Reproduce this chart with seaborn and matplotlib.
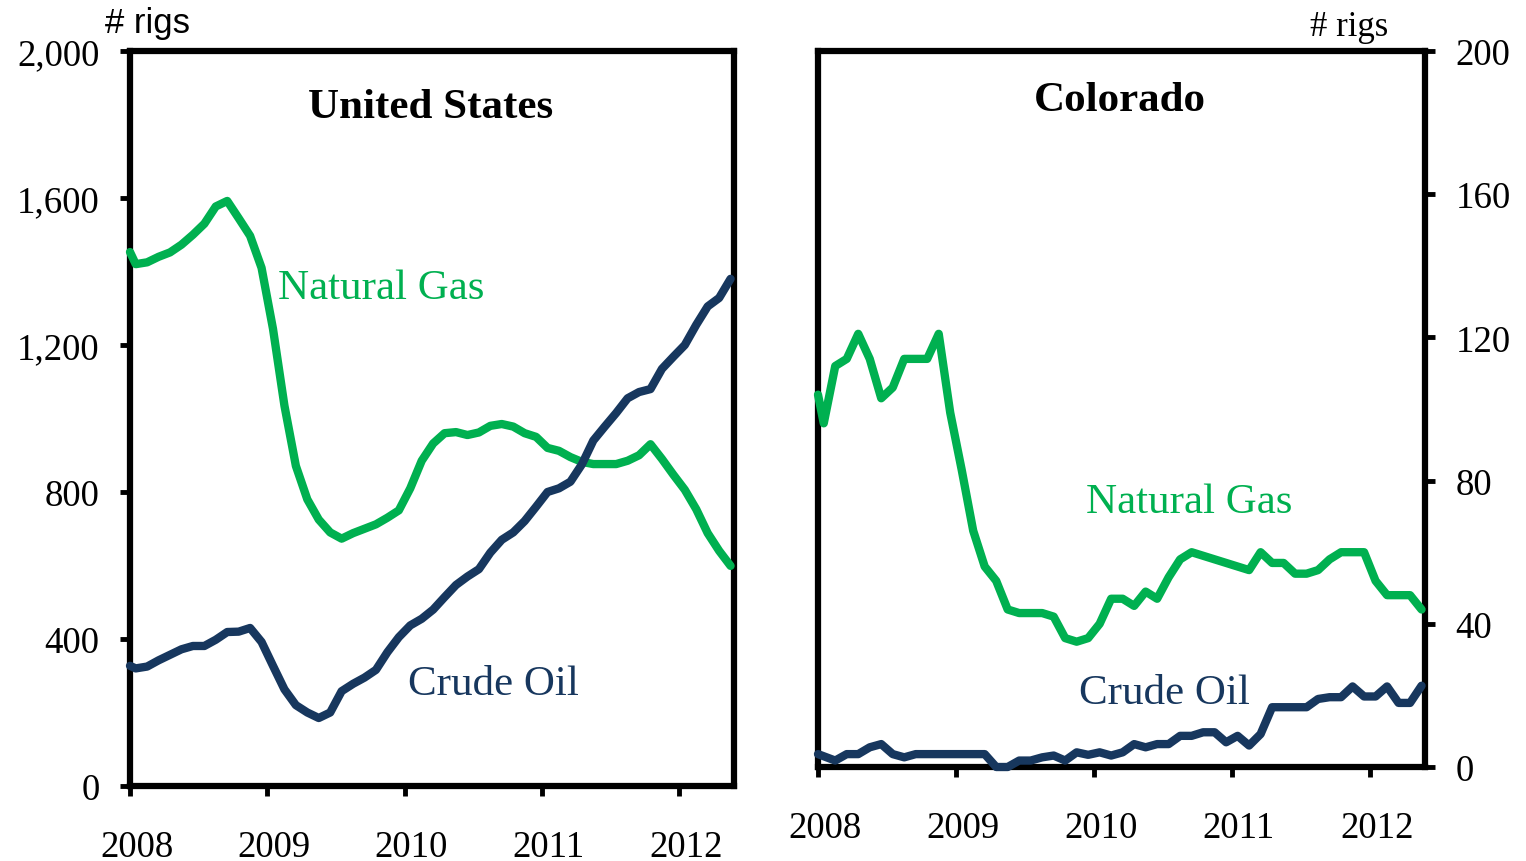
import numpy as np
import pandas as pd
import matplotlib
matplotlib.use("Agg")
import matplotlib.pyplot as plt
import matplotlib.transforms as mtransforms
import seaborn as sns

# ---- data (months since Jan 2008; first point at start of Jan, then mid-month) ----
month_pos = [0.0] + [m + 0.5 for m in range(53)]

us_gas = [1453, 1420, 1425, 1440, 1452, 1473, 1500, 1530, 1577, 1592,
          1545, 1497, 1410, 1244, 1035, 871, 780, 725, 690, 673,
          688, 700, 712, 730, 750, 810, 885, 932, 960, 963,
          955, 962, 980, 985, 978, 960, 950, 920, 912, 895,
          882, 876, 876, 876, 885, 900, 930, 890, 847, 806,
          753, 688, 640, 599]
us_oil = [327, 320, 325, 342, 357, 372, 381, 381, 398, 419,
          420, 430, 392, 327, 263, 220, 200, 185, 200, 258,
          278, 295, 316, 364, 405, 437, 455, 480, 514, 547,
          570, 590, 635, 670, 690, 721, 760, 800, 810, 828,
          875, 940, 978, 1015, 1055, 1072, 1080, 1135, 1168, 1200,
          1255, 1305, 1328, 1380]
co_gas = [104, 96, 112, 114, 121, 114, 103, 106, 114, 114,
          114, 121, 99, 83, 66, 56, 52, 44, 43, 43,
          43, 42, 36, 35, 36, 40, 47, 47, 45, 49,
          47, 53, 58, 60, 59, 58, 57, 56, 55, 60,
          57, 57, 54, 54, 55, 58, 60, 60, 60, 52,
          48, 48, 48, 44]
co_oil = [3.6, 3.0, 1.8, 3.6, 3.6, 5.5, 6.4, 3.6, 2.7, 3.6,
          3.6, 3.6, 3.6, 3.6, 3.6, 3.6, 0.0, 0.0, 1.8, 1.8,
          2.7, 3.2, 1.8, 4.1, 3.4, 4.1, 3.2, 4.1, 6.4, 5.5,
          6.4, 6.4, 8.7, 8.7, 9.7, 9.7, 6.9, 8.7, 6.0, 9.2,
          16.7, 16.7, 16.7, 16.7, 19.0, 19.5, 19.5, 22.5, 19.7, 19.7,
          22.5, 17.9, 17.9, 22.7]

year_ticks = [0, 12, 24, 36, 48]
year_labels = ["2008", "2009", "2010", "2011", "2012"]
us_yticks = [0, 400, 800, 1200, 1600, 2000]
us_ylabels = ["0", "400", "800", "1,200", "1,600", "2,000"]
co_yticks = [0, 40, 80, 120, 160, 200]
co_ylabels = ["0", "40", "80", "120", "160", "200"]

GREEN = "#00B050"
NAVY = "#17375E"

sns.set_style("white")
plt.rcParams["font.family"] = ["Liberation Serif", "DejaVu Serif"]
plt.rcParams["text.color"] = "black"
plt.rcParams["xtick.color"] = "black"
plt.rcParams["ytick.color"] = "black"
plt.rcParams["axes.labelcolor"] = "black"

fig = plt.figure(figsize=(15.26, 8.62), dpi=100)
ax1 = fig.add_axes([130 / 1526, 1 - 787 / 862, (734 - 130) / 1526, (787 - 52) / 862])
ax2 = fig.add_axes([818 / 1526, 1 - 768 / 862, (1425 - 818) / 1526, (768 - 52) / 862])

df_us = pd.DataFrame({"m": month_pos, "gas": us_gas, "oil": us_oil})
df_co = pd.DataFrame({"m": month_pos, "gas": co_gas, "oil": co_oil})

for ax, df in ((ax1, df_us), (ax2, df_co)):
    sns.lineplot(data=df, x="m", y="gas", ax=ax, color=GREEN, lw=6, zorder=3, clip_on=False)
    sns.lineplot(data=df, x="m", y="oil", ax=ax, color=NAVY, lw=6, zorder=3, clip_on=False)
    ax.set_xlim(0, 52.8)
    ax.set_xlabel("")
    ax.set_ylabel("")
    for s in ax.spines.values():
        s.set_visible(True)
        s.set_linewidth(4.5)
        s.set_color("black")
    ax.set_xticks(year_ticks)
    ax.set_xticklabels(year_labels)
    ax.tick_params(axis="x", direction="out", length=7, width=3.5, labelsize=26.5,
                   pad=24, bottom=True, top=False, colors="black")
    offset = mtransforms.ScaledTranslation(7 / 100, 0, fig.dpi_scale_trans)
    for lab in ax.get_xticklabels():
        lab.set_transform(lab.get_transform() + offset)

# Left panel
ax1.set_ylim(0, 2000)
ax1.set_yticks(us_yticks)
ax1.set_yticklabels(us_ylabels)
ax1.tick_params(axis="y", direction="out", length=7, width=3.5, labelsize=26.5,
                pad=15, left=True, right=False, colors="black")
ax1.text(0.498, 0.924, "United States", transform=ax1.transAxes, ha="center",
         va="center", fontsize=31, fontweight="bold", color="black")
ax1.text(12.9, 1355, "Natural Gas", color=GREEN, fontsize=31, ha="left", va="center")
ax1.text(24.3, 277, "Crude Oil", color=NAVY, fontsize=31, ha="left", va="center")

# Right panel
ax2.set_ylim(0, 200)
ax2.yaxis.tick_right()
ax2.set_yticks(co_yticks)
ax2.set_yticklabels(co_ylabels)
ax2.tick_params(axis="y", direction="out", length=7, width=3.5, labelsize=26.5,
                pad=15, left=False, right=True, labelleft=False, labelright=True,
                colors="black")
ax2.text(0.4975, 0.932, "Colorado", transform=ax2.transAxes, ha="center",
         va="center", fontsize=31, fontweight="bold", color="black")
ax2.text(23.3, 74, "Natural Gas", color=GREEN, fontsize=31, ha="left", va="center")
ax2.text(22.7, 20.7, "Crude Oil", color=NAVY, fontsize=31, ha="left", va="center")

fig.text(105 / 1526, 1 - 23 / 862, "# rigs", fontsize=25, ha="left", va="center",
         family=["Liberation Sans", "DejaVu Sans"], color="black")
fig.text(1310 / 1526, 1 - 28 / 862, "# rigs", fontsize=25, ha="left", va="center",
         color="black")

fig.savefig("out.png", dpi=100)
